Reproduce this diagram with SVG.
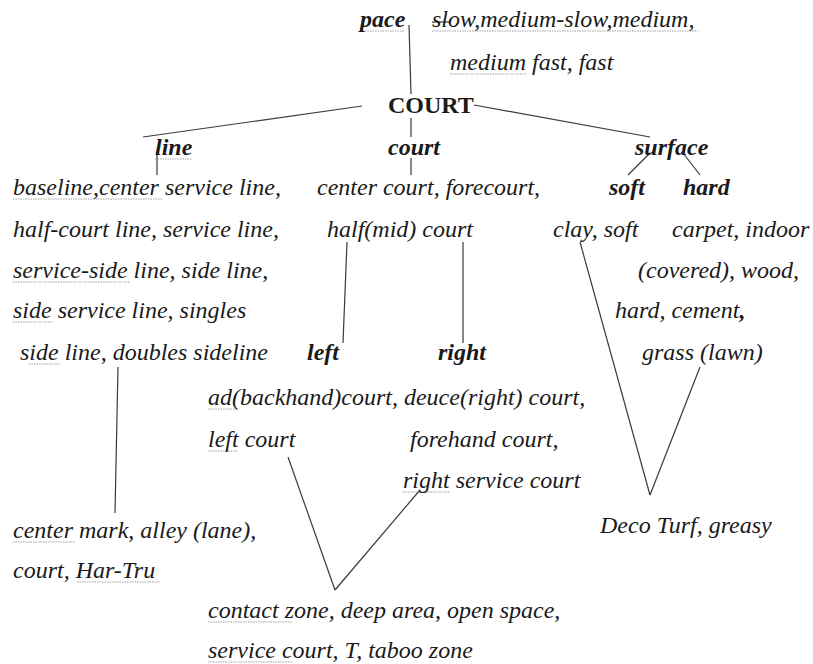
<svg xmlns="http://www.w3.org/2000/svg" width="813" height="664" viewBox="0 0 813 664">
<style>
text{font-family:"Liberation Serif","Times New Roman",serif;font-size:24px;font-style:italic;fill:#1a1a1a}
.b{font-weight:bold}
.cap{font-style:normal;font-weight:bold}
.c line{stroke:#3a3a3a;stroke-width:1.2}
.u path{fill:none;stroke:#a0a0a0;stroke-width:1;stroke-dasharray:1.5 1}
</style>
<rect width="813" height="664" fill="#fff"/>
<g class="c" id="connectors">
<line x1="409" y1="25" x2="411" y2="94"/>
<line x1="362" y1="106" x2="143" y2="137"/>
<line x1="474" y1="105" x2="650" y2="137"/>
<line x1="411" y1="118" x2="411" y2="137"/>
<line x1="411" y1="158" x2="411" y2="175"/>
<line x1="157" y1="152" x2="157" y2="175"/>
<line x1="650" y1="153" x2="628" y2="175"/>
<line x1="683" y1="153" x2="700" y2="175"/>
<line x1="347" y1="242" x2="343" y2="343"/>
<line x1="463" y1="242" x2="463" y2="343"/>
<line x1="580" y1="242" x2="650" y2="495"/>
<line x1="700" y1="367" x2="650" y2="495"/>
<line x1="118" y1="367" x2="115" y2="513"/>
<line x1="288" y1="457" x2="335" y2="590"/>
<line x1="335" y1="590" x2="420" y2="490"/>
<line x1="432" y1="22" x2="451" y2="22"/>
</g>
<g class="u" id="spellmarks">
<path d="M360 31H405"/><path d="M432 31H698"/><path d="M450 74H527"/>
<path d="M155 159H192"/><path d="M13 199H163"/><path d="M13 282H130"/>
<path d="M13 322H53"/><path d="M29 364H60"/><path d="M208 409H238"/>
<path d="M208 451H238"/><path d="M403 492H450"/><path d="M13 542H75"/>
<path d="M77 582H160"/><path d="M208 622H293"/><path d="M208 662H293"/>
</g>
<g id="pace"><text class="b" x="360" y="27">pace</text></g>
<g id="pace-values"><text x="432" y="27">slow,medium-slow,medium,</text><text x="450" y="70">medium fast, fast</text></g>
<g id="court-root"><text class="cap" x="388" y="113">COURT</text></g>
<g id="line"><text class="b" x="155" y="155">line</text></g>
<g id="court"><text class="b" x="388" y="155">court</text></g>
<g id="surface"><text class="b" x="635" y="155">surface</text></g>
<g id="line-values">
<text x="13" y="195">baseline,center service line,</text>
<text x="13" y="237">half-court line, service line,</text>
<text x="13" y="278">service-side line, side line,</text>
<text x="13" y="318">side service line, singles</text>
<text x="20" y="360">side line, doubles sideline</text>
</g>
<g id="court-values">
<text x="317" y="195">center court, forecourt,</text>
<text x="327" y="237">half(mid) court</text>
</g>
<g id="soft"><text class="b" x="609" y="195">soft</text></g>
<g id="hard"><text class="b" x="683" y="195">hard</text></g>
<g id="soft-values"><text x="553" y="237">clay, soft</text></g>
<g id="hard-values">
<text x="672" y="237">carpet, indoor</text>
<text x="638" y="278">(covered), wood,</text>
<text x="615" y="318">hard, cement<tspan font-weight="bold">,</tspan></text>
<text x="642" y="360">grass (lawn)</text>
</g>
<g id="left"><text class="b" x="307" y="360">left</text></g>
<g id="right"><text class="b" x="438" y="360">right</text></g>
<g id="left-right-values">
<text x="208" y="405">ad(backhand)court, deuce(right) court,</text>
<text x="208" y="447">left court</text>
<text x="410" y="447">forehand court,</text>
<text x="403" y="488">right service court</text>
</g>
<g id="line-more"><text x="13" y="538">center mark, alley (lane),</text><text x="13" y="578">court, Har-Tru</text></g>
<g id="deco"><text x="600" y="533">Deco Turf, greasy</text></g>
<g id="zones"><text x="208" y="618">contact zone, deep area, open space,</text><text x="208" y="658">service court, T, taboo zone</text></g>
</svg>
